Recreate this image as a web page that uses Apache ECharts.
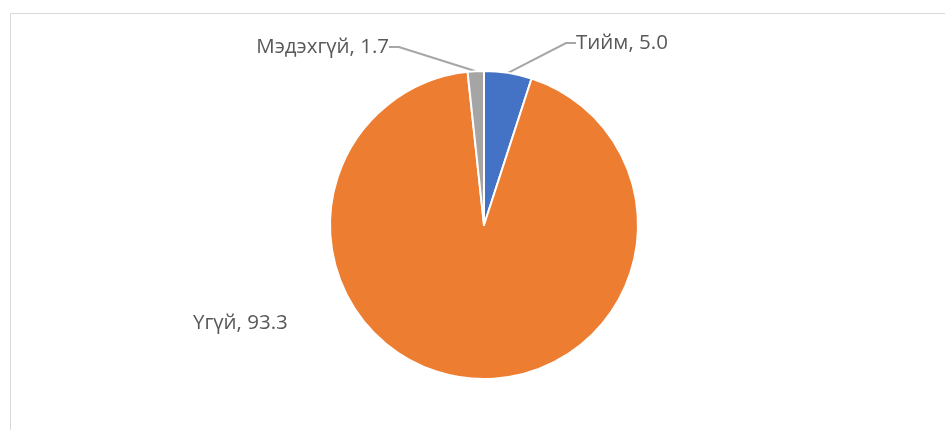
<!DOCTYPE html>
<html>
<head>
<meta charset="utf-8">
<script src="https://cdn.jsdelivr.net/npm/echarts@6/dist/echarts.min.js"></script>
<style>
html,body{margin:0;padding:0;background:#fff;}
#main{width:945px;height:430px;}
</style>
</head>
<body>
<div id="main"></div>
<script>
const categories = ['Тийм', 'Үгүй', 'Мэдэхгүй'];
const values = [5.0, 93.3, 1.7];
const colors = ['#4472C4', '#ED7D31', '#A5A5A5'];

const labelSpots = {
  0: { x: 570, y: 43, align: 'left' },
  1: { x: 187, y: 323, align: 'left' },
  2: { x: 395, y: 47, align: 'right' }
};

const chart = echarts.init(document.getElementById('main'));
chart.setOption({
  animation: false,
  backgroundColor: '#fff',
  graphic: [{
    type: 'rect',
    shape: { x: 10.5, y: 13.5, width: 945, height: 430 },
    style: { fill: 'none', stroke: '#D9D9D9', lineWidth: 1 },
    silent: true
  }],
  series: [{
    type: 'pie',
    center: [484, 225],
    radius: 154,
    startAngle: 90,
    clockwise: true,
    data: categories.map((c, i) => ({
      name: c,
      value: values[i],
      itemStyle: { color: colors[i] },
      labelLine: { show: i !== 1 }
    })),
    itemStyle: { borderColor: '#fff', borderWidth: 2 },
    label: {
      show: true,
      position: 'outside',
      formatter: p => p.name + ', ' + p.value.toFixed(1),
      fontFamily: 'Open Sans',
      fontSize: 20.5,
      color: '#595959',
      padding: [0, 6, 0, 6]
    },
    labelLine: {
      show: true,
      length: 10,
      length2: 10,
      lineStyle: { color: '#A6A6A6', width: 2 }
    },
    labelLayout: function (params) {
      const s = labelSpots[params.dataIndex];
      return { x: s.x, y: s.y, align: s.align, verticalAlign: 'middle' };
    }
  }]
});
</script>
</body>
</html>
